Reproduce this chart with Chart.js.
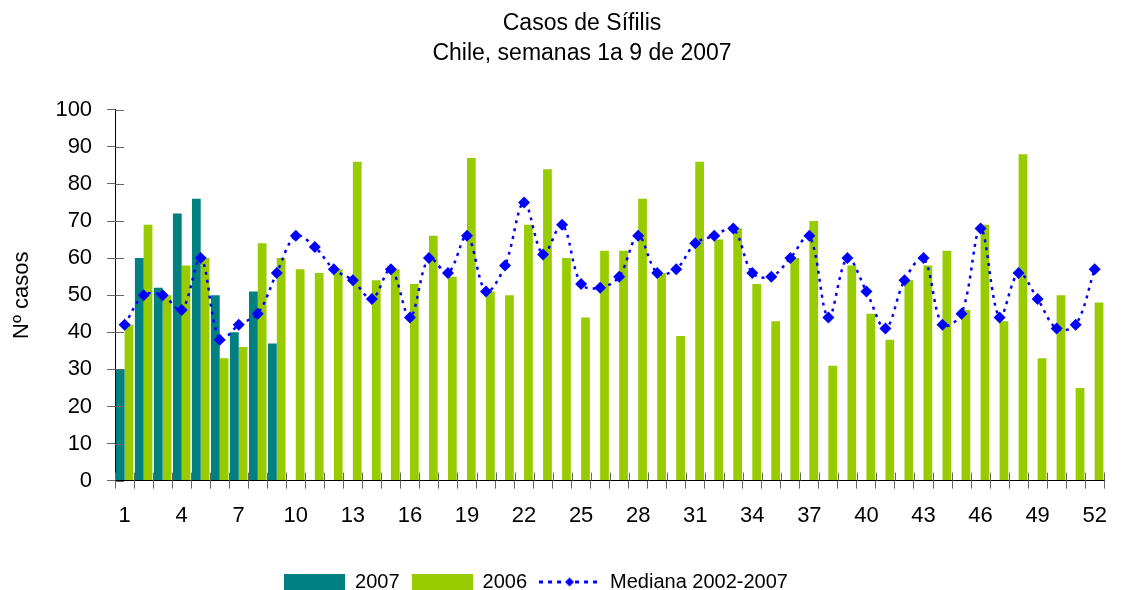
<!DOCTYPE html>
<html>
<head>
<meta charset="utf-8">
<script src="https://cdn.jsdelivr.net/npm/chart.js@4.4.1/dist/chart.umd.min.js"></script>
<style>
  body { margin: 0; background: #fff; }
</style>
</head>
<body>
<canvas id="myChart" width="1121" height="590"></canvas>
<script>
const weeks = [
  "1", "2", "3", "4", "5", "6", "7", "8", "9", "10", "11", "12", "13",
  "14", "15", "16", "17", "18", "19", "20", "21", "22", "23", "24", "25", "26",
  "27", "28", "29", "30", "31", "32", "33", "34", "35", "36", "37", "38", "39",
  "40", "41", "42", "43", "44", "45", "46", "47", "48", "49", "50", "51", "52",
];
const casos2007 = [30, 60, 52, 72, 76, 50, 40, 51, 37];
const casos2006 = [
  42, 69, 50, 58, 60, 33, 36, 64, 60, 57, 56, 57, 86,
  54, 57, 53, 66, 55, 87, 51, 50, 69, 84, 60, 44, 62,
  62, 76, 56, 39, 86, 65, 68, 53, 43, 60, 70, 31, 58,
  45, 38, 54, 58, 62, 46, 69, 43, 88, 33, 50, 25, 48,
];
const mediana = [
  42, 50, 50, 46, 60, 38, 42, 45, 56, 66, 63, 57, 54,
  49, 57, 44, 60, 56, 66, 51, 58, 75, 61, 69, 53, 52,
  55, 66, 56, 57, 64, 66, 68, 56, 55, 60, 66, 44, 60,
  51, 41, 54, 60, 42, 45, 68, 44, 56, 49, 41, 42, 57,
];

Chart.defaults.font.family = "'Liberation Sans', Arial, sans-serif";
Chart.defaults.color = "#000";

// legend icons (drawn as point styles)
function boxIcon(color) {
  const c = document.createElement("canvas");
  c.width = 61;
  c.height = 17;
  const g = c.getContext("2d");
  g.fillStyle = color;
  g.fillRect(0, 0, 61, 17);
  return c;
}
function lineIcon() {
  const c = document.createElement("canvas");
  c.width = 61;
  c.height = 17;
  const g = c.getContext("2d");
  g.strokeStyle = "#0000ff";
  g.lineWidth = 3;
  g.setLineDash([4, 5]);
  g.beginPath();
  g.moveTo(0, 8.5);
  g.lineTo(61, 8.5);
  g.stroke();
  g.fillStyle = "#0000ff";
  g.beginPath();
  g.moveTo(30.5, 4);
  g.lineTo(35, 8.5);
  g.lineTo(30.5, 13);
  g.lineTo(26, 8.5);
  g.closePath();
  g.fill();
  return c;
}
const icons = [boxIcon("#008080"), boxIcon("#99cc00"), lineIcon()];

// tick marks that cross the axes, like the original
const innerTicks = {
  id: "innerTicks",
  afterDatasetsDraw(chart) {
    const { ctx, chartArea, scales } = chart;
    ctx.save();
    ctx.strokeStyle = "#666";
    ctx.lineWidth = 1;
    ctx.beginPath();
    scales.y.ticks.forEach((t) => {
      const py = Math.round(scales.y.getPixelForValue(t.value)) + 0.5;
      ctx.moveTo(chartArea.left, py);
      ctx.lineTo(chartArea.left + 9, py);
    });
    const n = scales.x.ticks.length;
    for (let i = 0; i <= n; i++) {
      const px = Math.round(chartArea.left + (chartArea.width * i) / n) + 0.5;
      ctx.moveTo(px, chartArea.bottom);
      ctx.lineTo(px, chartArea.bottom - 8);
    }
    ctx.stroke();
    ctx.restore();
  },
};

// title and legend are not centred on the canvas in the original
const nudge = {
  id: "nudge",
  afterLayout(chart) {
    const t = chart.titleBlock;
    t.left += 26;
    t.right += 26;
    const l = chart.legend;
    const dy = 581 - (l.top + l.bottom) / 2;
    l.left -= 20;
    l.right -= 20;
    l.top += dy;
    l.bottom += dy;
  },
};

const data = {
  labels: weeks,
  datasets: [
    {
      type: "bar",
      label: "2007",
      data: casos2007,
      backgroundColor: "#008080",
      categoryPercentage: 0.92,
      barPercentage: 1.0,
      order: 1,
    },
    {
      type: "bar",
      label: "2006",
      data: casos2006,
      backgroundColor: "#99cc00",
      categoryPercentage: 0.92,
      barPercentage: 1.0,
      order: 1,
    },
    {
      type: "line",
      label: "Mediana 2002-2007",
      data: mediana,
      borderColor: "#0000ff",
      backgroundColor: "#0000ff",
      borderWidth: 2.5,
      borderDash: [3, 5],
      tension: 0.35,
      pointStyle: "rectRot",
      pointRadius: 6,
      pointBorderWidth: 0,
      order: 0,
    },
  ],
};

const config = {
  type: "bar",
  data: data,
  options: {
    responsive: false,
    animation: false,
    layout: { padding: { left: 0, right: 9, top: 0, bottom: 5 } },
    plugins: {
      title: {
        display: true,
        text: ["Casos de Sífilis", "Chile, semanas 1a 9 de 2007"],
        font: { size: 23, weight: "normal", lineHeight: 1.3 },
        color: "#000",
        padding: { top: 9, bottom: 41 },
      },
      legend: {
        position: "bottom",
        labels: {
          usePointStyle: true,
          pointStyleWidth: 61,
          boxHeight: 17,
          padding: 12,
          font: { size: 20 },
          color: "#000",
          generateLabels(chart) {
            return Chart.defaults.plugins.legend.labels
              .generateLabels(chart)
              .sort((a, b) => a.datasetIndex - b.datasetIndex)
              .map((item) => ({ ...item, pointStyle: icons[item.datasetIndex] }));
          },
        },
      },
      tooltip: { enabled: false },
    },
    scales: {
      x: {
        grid: {
          display: true,
          drawOnChartArea: false,
          tickLength: 8,
          color: "#666",
        },
        border: { color: "#000", width: 1 },
        ticks: {
          autoSkip: false,
          maxRotation: 0,
          padding: 14,
          font: { size: 22 },
          callback: function (value, index) {
            return index % 3 === 0 ? weeks[index] : "";
          },
        },
      },
      y: {
        min: 0,
        max: 100,
        grid: {
          display: true,
          drawOnChartArea: false,
          tickLength: 8,
          color: "#666",
        },
        border: { color: "#000", width: 1 },
        ticks: { stepSize: 10, padding: 15, font: { size: 22 } },
        title: {
          display: true,
          text: "Nº casos",
          font: { size: 22 },
          padding: { top: 9, bottom: 5 },
        },
      },
    },
  },
  plugins: [innerTicks, nudge],
};

const myChart = new Chart(document.getElementById("myChart"), config);
</script>
</body>
</html>
